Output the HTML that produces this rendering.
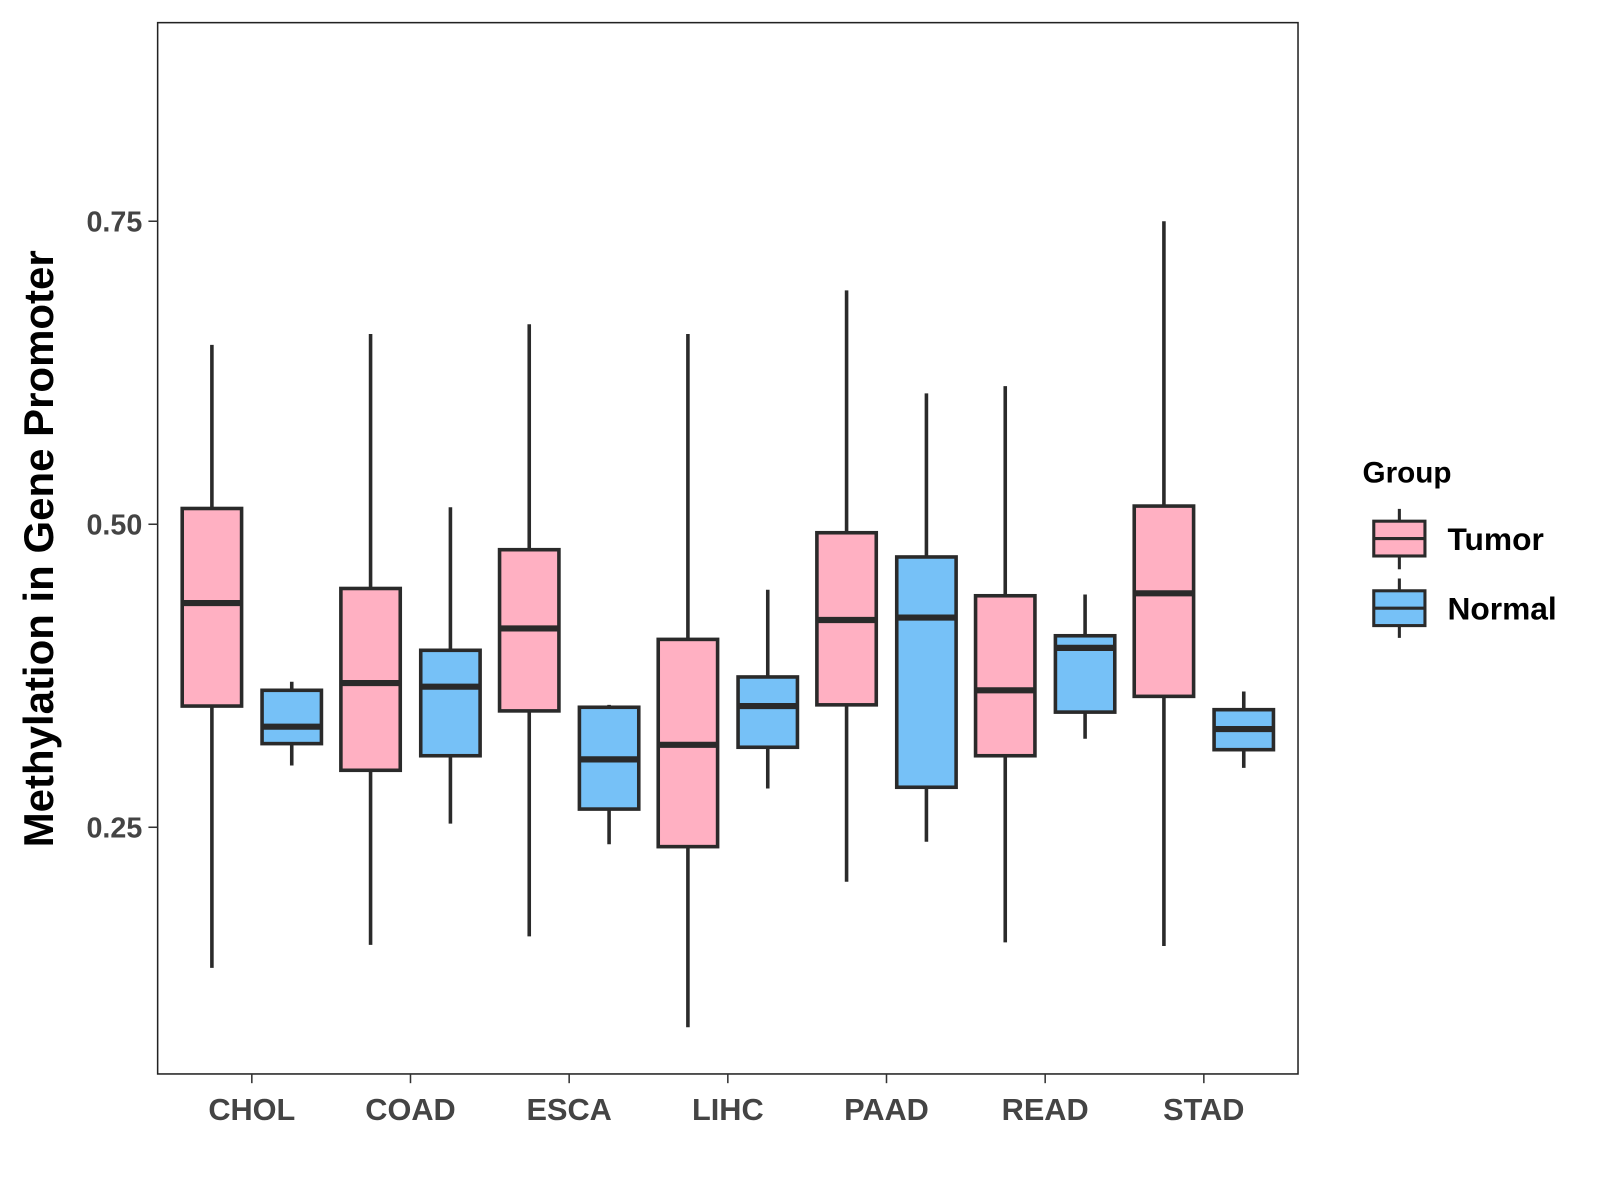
<!DOCTYPE html>
<html><head><meta charset="utf-8"><style>body{margin:0;background:#fff}svg{display:block;font-family:"Liberation Sans",Arial,sans-serif}</style></head>
<body>
<svg id="chart" width="1600" height="1200" viewBox="0 0 1563 1172">
<rect x="154" y="22" width="1114" height="1027" fill="#fff" stroke="#222" stroke-width="1.5"/>
<g id="boxes"></g><g id="axes"></g>
<text x="52" y="536" transform="rotate(-90 52 536)" text-anchor="middle" font-size="41" font-weight="bold" fill="#000">Methylation in Gene Promoter</text>
<g>
<text x="1331" y="471" font-size="29" font-weight="bold">Group</text>
<g>
<line x1="1367" y1="497" x2="1367" y2="556" stroke="#2a2a2a" stroke-width="3"/>
<rect x="1342" y="509" width="50" height="34" fill="#FFB0C2" stroke="#2a2a2a" stroke-width="3"/>
<line x1="1342" y1="526" x2="1392" y2="526" stroke="#2a2a2a" stroke-width="3"/>
<text x="1414" y="537" font-size="31" font-weight="bold">Tumor</text></g>
<g>
<line x1="1367" y1="565" x2="1367" y2="623" stroke="#2a2a2a" stroke-width="3"/>
<rect x="1342" y="577" width="50" height="34" fill="#76C1F7" stroke="#2a2a2a" stroke-width="3"/>
<line x1="1342" y1="594" x2="1392" y2="594" stroke="#2a2a2a" stroke-width="3"/>
<text x="1414" y="605" font-size="31" font-weight="bold">Normal</text></g>
</g>
</svg>
<script>
const categories=["CHOL","COAD","ESCA","LIHC","PAAD","READ","STAD"];
const tumorMin=[0.134,0.153,0.160,0.085,0.205,0.155,0.152];
const tumorQ1=[0.350,0.297,0.346,0.234,0.351,0.309,0.358];
const tumorMed=[0.435,0.369,0.414,0.318,0.421,0.363,0.443];
const tumorQ3=[0.513,0.447,0.479,0.405,0.493,0.441,0.515];
const tumorMax=[0.648,0.657,0.665,0.657,0.693,0.614,0.750];
const normalMin=[0.301,0.253,0.236,0.282,0.238,0.323,0.299];
const normalQ1=[0.319,0.309,0.265,0.316,0.283,0.345,0.314];
const normalMed=[0.333,0.366,0.306,0.350,0.423,0.398,0.331];
const normalQ3=[0.363,0.396,0.349,0.374,0.473,0.408,0.347];
const normalMax=[0.370,0.514,0.351,0.446,0.608,0.442,0.362];
const yTicks=[0.25,0.50,0.75];
const yTickLabels=["0.25","0.50","0.75"];
const NS="http://www.w3.org/2000/svg";
const y=v=>512-(v-0.5)*1184;
const x=i=>246+i*155;
function mk(tag,attrs,parent){const e=document.createElementNS(NS,tag);for(const k in attrs)e.setAttribute(k,attrs[k]);parent.appendChild(e);return e;}
const gb=document.getElementById('boxes'),ga=document.getElementById('axes');
function drawBox(cx,mn,q1,md,q3,mx,fill,name){
 const g=mk('g',{},gb);
 
 
 mk('line',{x1:cx,x2:cx,y1:y(mx),y2:y(mn),stroke:'#2a2a2a','stroke-width':3.5},g);
 mk('rect',{x:cx-29,width:58,y:y(q3),height:y(q1)-y(q3),fill:fill,stroke:'#2a2a2a','stroke-width':3.5},g);
 mk('line',{x1:cx-29,x2:cx+29,y1:y(md),y2:y(md),stroke:'#2a2a2a','stroke-width':6},g);
}
categories.forEach((c,i)=>{
 drawBox(x(i)-39,tumorMin[i],tumorQ1[i],tumorMed[i],tumorQ3[i],tumorMax[i],'#FFB0C2','box-tumor-'+c.toLowerCase());
 drawBox(x(i)+39,normalMin[i],normalQ1[i],normalMed[i],normalQ3[i],normalMax[i],'#76C1F7','box-normal-'+c.toLowerCase());
 mk('line',{x1:x(i),x2:x(i),y1:1049,y2:1058,stroke:'#333','stroke-width':1.5},ga);
 const t=mk('text',{x:x(i),y:1094,'text-anchor':'middle','font-size':30,'font-weight':'bold',fill:'#444'},ga);
 
 
 t.textContent=c;
});
yTicks.forEach((v,i)=>{
 mk('line',{x1:145,x2:154,y1:y(v),y2:y(v),stroke:'#333','stroke-width':1.5},ga);
 const t=mk('text',{x:139,y:y(v)+10,'text-anchor':'end','font-size':28,'font-weight':'bold',fill:'#444'},ga);
 
 
 t.textContent=yTickLabels[i];
});
</script>
</body></html>
